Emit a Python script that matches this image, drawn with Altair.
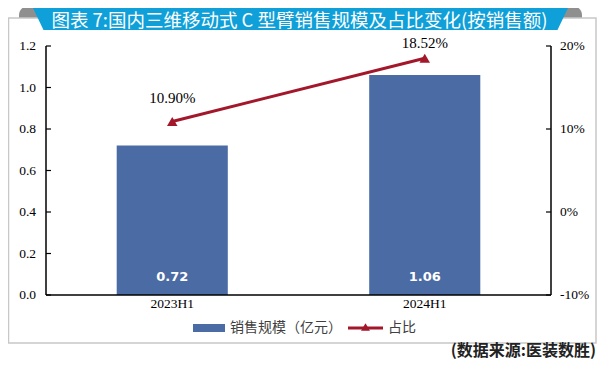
import altair as alt
import pandas as pd

# ---- data ----
periods = ["2023H1", "2024H1"]
sales = [0.72, 1.06]
share = [0.1090, 0.1852]
sales_labels = ["0.72", "1.06"]
share_labels = ["10.90%", "18.52%"]
left_ticks = [0.0, 0.2, 0.4, 0.6, 0.8, 1.0, 1.2]
right_ticks = [-0.1, 0.0, 0.1, 0.2]
title_text = "图表 7:国内三维移动式 C 型臂销售规模及占比变化(按销售额)"
legend_bar = "销售规模（亿元）"
legend_line = "占比"
source_text = "(数据来源:医装数胜)"

df = pd.DataFrame({"period": periods, "sales": sales, "share": share,
                   "sales_label": sales_labels, "share_label": share_labels})
lt = pd.DataFrame({"t": left_ticks})
rt = pd.DataFrame({"t": right_ticks})
one = pd.DataFrame({"k": [0]})

W, H = 505, 249
BLUE = "#4a6ba3"
RED = "#a3172b"
BANNER = "#0fa0d9"
SERIF = "Liberation Serif"
CJK = "Noto Sans CJK SC"

x_enc = alt.X("period:N", sort=periods,
              scale=alt.Scale(paddingInner=0.56, paddingOuter=0.28), axis=None)
x_na = alt.X("period:N", sort=periods, axis=None)

ly = alt.Scale(domain=[0, 1.2], nice=False)
ry = alt.Scale(domain=[-0.1, 0.2], nice=False)

# ---- left (bars + left axis drawn from its tick list) ----
bars = alt.Chart(df).mark_bar(color=BLUE).encode(
    x=x_enc, y=alt.Y("sales:Q", scale=ly, axis=None))
bar_labels = alt.Chart(df).mark_text(color="white", font="DejaVu Sans", fontWeight="bold",
                                     fontSize=13, dy=-18, baseline="middle").encode(
    x=x_na, y=alt.YDatum(0, axis=None), text="sales_label:N")
lticks = alt.Chart(lt).mark_rule(color="black", strokeWidth=1.2).encode(
    y=alt.Y("t:Q", axis=None), x=alt.value(0), x2=alt.value(5))
llabels = alt.Chart(lt).mark_text(align="right", baseline="middle", font=SERIF,
                                  fontSize=13.5, color="black").encode(
    y=alt.Y("t:Q", axis=None), x=alt.value(-10), text=alt.Text("t:Q", format=".1f"))
ldomain = alt.Chart(one).mark_rule(color="black", strokeWidth=1.5).encode(
    x=alt.value(0), y=alt.YDatum(0, axis=None), y2=alt.Y2Datum(1.2))
xdomain = alt.Chart(one).mark_rule(color="black", strokeWidth=1.5).encode(
    x=alt.value(0), x2=alt.value(W), y=alt.YDatum(0, axis=None))
xlabels = alt.Chart(df).mark_text(baseline="middle", font=SERIF, fontSize=13.5,
                                  color="black", dy=9).encode(
    x=x_na, y=alt.YDatum(0, axis=None), text="period:N")
left = alt.layer(bars, bar_labels, lticks, llabels, ldomain, xdomain, xlabels)

# ---- right (line + right axis drawn from its tick list) ----
line = alt.Chart(df).mark_line(color=RED, strokeWidth=3).encode(
    x=x_na, y=alt.Y("share:Q", scale=ry, axis=None))
pts = alt.Chart(df).mark_point(shape="triangle-up", filled=True, size=110, color=RED,
                               opacity=1).encode(x=x_na, y=alt.Y("share:Q", axis=None))
lab1 = alt.Chart(df).transform_filter(alt.datum.period == periods[0]).mark_text(
    font=SERIF, fontSize=15, color="black", dy=-24).encode(
    x=x_na, y=alt.Y("share:Q", axis=None), text="share_label:N")
lab2 = alt.Chart(df).transform_filter(alt.datum.period == periods[1]).mark_text(
    font=SERIF, fontSize=15, color="black", dy=-15).encode(
    x=x_na, y=alt.Y("share:Q", axis=None), text="share_label:N")
rticks = alt.Chart(rt).mark_rule(color="black", strokeWidth=1.2).encode(
    y=alt.Y("t:Q", axis=None), x=alt.value(W - 5), x2=alt.value(W))
rlabels = alt.Chart(rt).transform_calculate(
    lab="replace(format(datum.t, '.0%'), '\u2212', '-')"
).mark_text(align="left", baseline="middle", font=SERIF, fontSize=13.5,
            color="black").encode(
    y=alt.Y("t:Q", axis=None), x=alt.value(W + 9), text="lab:N")
rdomain = alt.Chart(one).mark_rule(color="black", strokeWidth=1.5).encode(
    x=alt.value(W), y=alt.YDatum(-0.1, axis=None), y2=alt.Y2Datum(0.2))
right = alt.layer(line, pts, lab1, lab2, rticks, rlabels, rdomain)

# ---- decoration ----
tab_l = alt.Chart(one).mark_rect(color="#8f8f8f", cornerRadiusTopLeft=9).encode(
    x=alt.value(-27), x2=alt.value(4), y=alt.value(-40), y2=alt.value(-21))
tab_r = alt.Chart(one).mark_rect(color="#8f8f8f", cornerRadiusTopRight=9).encode(
    x=alt.value(504), x2=alt.value(536), y=alt.value(-40), y2=alt.value(-21))
frame = alt.Chart(one).mark_rect(fill="white", stroke="#c8c8c8", strokeWidth=1.5).encode(
    x=alt.value(-37.5), x2=alt.value(550), y=alt.value(-28), y2=alt.value(297))
banner = alt.Chart(one).mark_point(
    shape="M-1,-0.0411L1,-0.0411L0.9607,0.0411L-0.9607,0.0411Z",
    filled=True, size=286225, color=BANNER, opacity=1, strokeWidth=0).encode(
    x=alt.value(254.5), y=alt.value(-27))
title = alt.Chart(one).mark_text(text=title_text, font=CJK, fontSize=18.5, color="white",
                                 align="center", baseline="middle").encode(
    x=alt.value(253.5), y=alt.value(-25.5))

# ---- legend ----
lg_sw = alt.Chart(one).mark_rect(color=BLUE).encode(
    x=alt.value(147), x2=alt.value(179), y=alt.value(278), y2=alt.value(286))
lg_t1 = alt.Chart(one).mark_text(text=legend_bar, align="left", baseline="middle", font=CJK,
                                 fontSize=14, color="#404040").encode(
    x=alt.value(184), y=alt.value(282))
lg_ln = alt.Chart(one).mark_rule(color=RED, strokeWidth=3).encode(
    x=alt.value(302), x2=alt.value(337), y=alt.value(282))
lg_pt = alt.Chart(one).mark_point(shape="triangle-up", filled=True, size=80, color=RED,
                                  opacity=1).encode(x=alt.value(319.5), y=alt.value(281))
lg_t2 = alt.Chart(one).mark_text(text=legend_line, align="left", baseline="middle", font=CJK,
                                 fontSize=14, color="#404040").encode(
    x=alt.value(342), y=alt.value(282))
source = alt.Chart(one).mark_text(text=source_text, align="right", baseline="middle", font=CJK,
                                  fontSize=16, fontWeight="bold", color="#222222").encode(
    x=alt.value(550), y=alt.value(305))

chart = alt.layer(
    tab_l, tab_r, frame, banner, title, left, right,
    lg_sw, lg_t1, lg_ln, lg_pt, lg_t2, source
).resolve_scale(y="independent").properties(
    width=W, height=H,
    padding={"left": 38, "top": 38, "right": 46, "bottom": 67},
    autosize=alt.AutoSizeParams(type="none"),
).configure_view(stroke=None).configure(background="white")

chart.save("out.html", embed_options={"renderer": "svg", "actions": False})
